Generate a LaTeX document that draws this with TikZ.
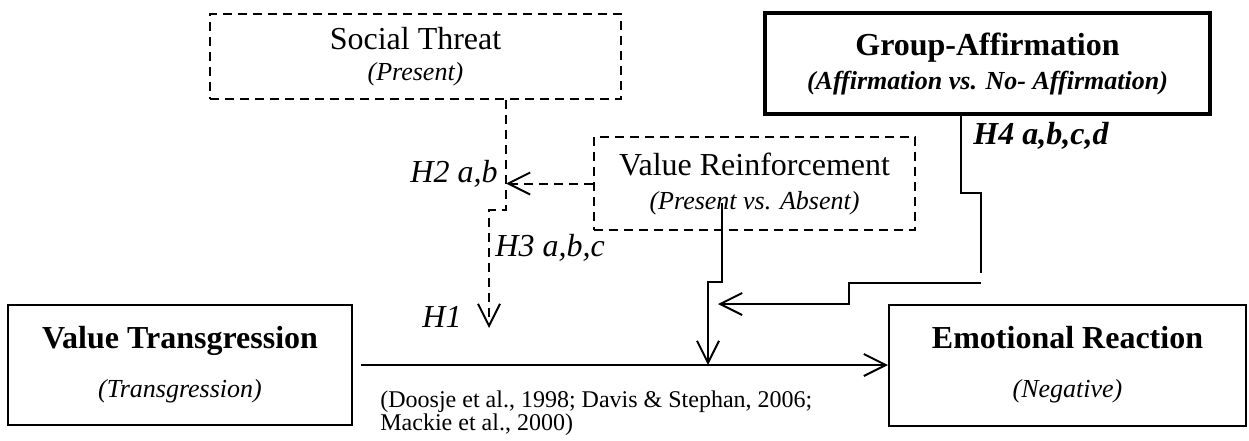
\documentclass[tikz,border=0pt]{standalone}
\usepackage{fontspec}
\setmainfont{Liberation Serif}
\usetikzlibrary{arrows.meta}

\begin{document}
\begin{tikzpicture}[x=0.5pt,y=-0.5pt,
        solidbox/.style={draw,line width=1pt,align=center,inner sep=0pt,font=\fontsize{16}{18}\selectfont},
        dashbox/.style={solidbox,dash pattern=on 4.5pt off 3pt},
        dashln/.style={line width=1pt,dash pattern=on 4.5pt off 3pt},
        ln/.style={line width=1pt},
        barb/.style={-{Straight Barb[length=11pt,width=11pt,line width=1pt]}},
        hlabel/.style={font=\fontsize{16}{19}\selectfont\itshape,inner sep=0pt}]
        \useasboundingbox (0,0) rectangle (1249,440);

        % boxes
        \node[dashbox,minimum width=205.5pt,minimum height=42.5pt] (threat) at (415.5,56.5)
            {Social Threat\\[-2.5pt]{\fontsize{13}{15}\selectfont\itshape (Present)}};
        \node[solidbox,line width=2pt,minimum width=222.5pt,minimum height=50.5pt] (grp) at (987.5,63.5)
            {\bfseries Group-Affirmation\\[-1pt]{\fontsize{13}{15}\selectfont\bfseries\itshape (Affirmation vs. No- Affirmation)}};
        \node[dashbox,minimum width=160.5pt,minimum height=46.5pt] (reinf) at (754.5,183.5)
            {Value Reinforcement\\[-1pt]{\fontsize{13}{15}\selectfont\itshape (Present vs. Absent)}};
        \node[solidbox,minimum width=172pt,minimum height=60pt] (trans) at (180,365)
            {\bfseries Value Transgression\\[6.5pt]{\fontsize{13}{15}\selectfont\itshape (Transgression)}};
        \node[solidbox,minimum width=178.5pt,minimum height=60.5pt] (emo) at (1067.5,365)
            {\bfseries Emotional Reaction\\[6.5pt]{\fontsize{13}{15}\selectfont\itshape (Negative)}};

        % bends of the connectors
        \coordinate (stA) at (506,210);
        \coordinate (stB) at (489,210);
        \coordinate (h1tip) at (489,328);
        \coordinate (h2tip) at (506,183);
        \coordinate (rA) at (722,203);
        \coordinate (rB) at (722,282);
        \coordinate (rC) at (708,282);
        \coordinate (gA) at (961,193);
        \coordinate (gB) at (981,193);
        \coordinate (gC) at (981,273);
        \coordinate (gD) at (981,283);
        \coordinate (gE) at (849,283);
        \coordinate (gF) at (849,304);
        \coordinate (gtip) at (718,304);

        % connectors
        \draw[dashln,barb] (threat.south -| stA) -- (stA) -- (stB) -- (h1tip);
        \draw[dashln,barb] (reinf.west) -- (reinf.west -| h2tip);
        \draw[ln,barb] ([xshift=4pt]trans.east) -- (emo.west);
        \draw[ln,barb] (rA) -- (rB) -- (rC) -- (rC |- trans.east);
        \draw[ln] (grp.south -| gA) -- (gA) -- (gB) -- (gC);
        \draw[ln,barb] (gD) -- (gE) -- (gF) -- (gtip);

        % labels
        \node[hlabel,anchor=base east] (h2) at (498,182) {H2 a,b};
        \node[hlabel,anchor=base west] (h3) at (495,256) {H3 a,b,c};
        \node[hlabel,anchor=base west] (h1) at (422,327) {H1};
        \node[hlabel,font=\fontsize{16}{19}\selectfont\bfseries\itshape,anchor=base west] (h4) at (973,144) {H4 a,b,c,d};
        \node[anchor=base west,align=left,inner sep=0pt,font=\fontsize{12}{11.5}\selectfont] (cite) at (380,430)
            {(Doosje et al., 1998; Davis \& Stephan, 2006;\\Mackie et al., 2000)};
\end{tikzpicture}
\end{document}
